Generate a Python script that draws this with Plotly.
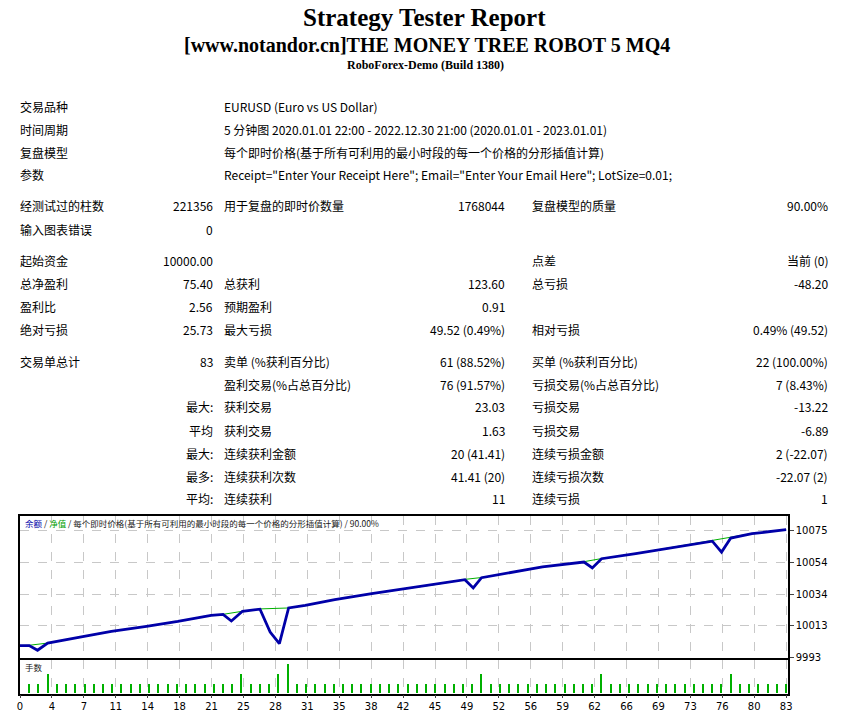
import plotly.graph_objects as go

W, H = 842, 713

# ---- data ----
bal_x = [0, 1, 3, 6.5, 9.9, 13.7, 17.1, 20.7, 22, 24.1, 26, 29.1, 30.9, 34.1, 38.1, 41.3, 44.9, 48.2, 50, 56.6, 61.1, 63, 66.7, 70.3, 75, 77, 79.3, 83]
bal_y = [10000.8, 10001, 10002.4, 10006.3, 10010, 10013.2, 10016.4, 10020.3, 10020.9, 10022.9, 10024.4, 10025, 10026.7, 10030.4, 10034.2, 10037, 10040, 10043.4, 10044.6, 10051.4, 10054.8, 10056.8, 10060, 10063.6, 10068.2, 10070.2, 10072.9, 10075.4]
eq_x = [0, 1, 1.9, 3, 6.5, 9.9, 13.7, 17.1, 20.7, 22, 22.9, 24.1, 26, 27.1, 28.1, 29.1, 30.9, 34.1, 38.1, 41.3, 44.9, 48.2, 49.1, 50, 56.6, 61.1, 62, 63, 66.7, 70.3, 75, 76, 77, 79.3, 83]
eq_y = [10000.8, 10000.8, 9997.8, 10002.4, 10006.3, 10010, 10013.2, 10016.4, 10020.3, 10020.9, 10016.6, 10022.9, 10024.2, 10009.5, 10002, 10025, 10026.7, 10030.4, 10034.2, 10037, 10040, 10043.2, 10037.9, 10044.5, 10051.4, 10054.6, 10050.8, 10056.7, 10060, 10063.6, 10068, 10061, 10070, 10072.8, 10075.4]
lots_x = list(range(1, 84))
lots_big = {3: 2, 24: 2, 28: 2, 29: 3, 50: 2, 63: 2, 77: 2}
lots_y = [lots_big.get(i, 1) for i in lots_x]
x_tick_labels = ["0","4","7","11","14","18","21","25","28","31","35","38","42","45","49","52","56","59","62","66","69","73","76","80","83"]
y_tick_vals = [9993, 10013.5, 10034, 10054.5, 10075]
y_tick_labels = ["9993", "10013", "10034", "10054", "10075"]

info_rows = [
    (106, "交易品种", "EURUSD (Euro vs US Dollar)"),
    (129, "时间周期", "5 分钟图 2020.01.01 22:00 - 2022.12.30 21:00 (2020.01.01 - 2023.01.01)"),
    (152, "复盘模型", "每个即时价格(基于所有可利用的最小时段的每一个价格的分形插值计算)"),
    (175, "参数", 'Receipt="Enter Your Receipt Here"; Email="Enter Your Email Here"; LotSize=0.01;'),
]
# y, label1, value1, label2, value2, label3, value3
stat_rows = [
    (206, "经测试过的柱数", "221356", "用于复盘的即时价数量", "1768044", "复盘模型的质量", "90.00%"),
    (229, "输入图表错误", "0", "", "", "", ""),
    (260, "起始资金", "10000.00", "", "", "点差", "当前 (0)"),
    (283, "总净盈利", "75.40", "总获利", "123.60", "总亏损", "-48.20"),
    (306, "盈利比", "2.56", "预期盈利", "0.91", "", ""),
    (329, "绝对亏损", "25.73", "最大亏损", "49.52 (0.49%)", "相对亏损", "0.49% (49.52)"),
    (361, "交易单总计", "83", "卖单 (%获利百分比)", "61 (88.52%)", "买单 (%获利百分比)", "22 (100.00%)"),
    (384, "", "", "盈利交易(%占总百分比)", "76 (91.57%)", "亏损交易(%占总百分比)", "7 (8.43%)"),
    (407, "", "最大:", "获利交易", "23.03", "亏损交易", "-13.22"),
    (430, "", "平均", "获利交易", "1.63", "亏损交易", "-6.89"),
    (453, "", "最大:", "连续获利金额", "20 (41.41)", "连续亏损金额", "2 (-22.07)"),
    (476, "", "最多:", "连续获利次数", "41.41 (20)", "连续亏损次数", "-22.07 (2)"),
    (499, "", "平均:", "连续获利", "11", "连续亏损", "1"),
]

fig = go.Figure()
fig.add_trace(go.Scatter(x=bal_x, y=bal_y, mode="lines", line=dict(color="#00b000", width=1), xaxis="x", yaxis="y", hoverinfo="skip"))
fig.add_trace(go.Scatter(x=eq_x, y=eq_y, mode="lines", line=dict(color="#0000a8", width=2.8), xaxis="x", yaxis="y", hoverinfo="skip"))
fig.add_trace(go.Bar(x=lots_x, y=lots_y, width=0.12, marker=dict(color="#00b000", line=dict(width=0)), xaxis="x2", yaxis="y2", hoverinfo="skip"))

px = lambda v: v / W
py = lambda v: 1 - v / H
tickpos = [i * 83 / 24 for i in range(25)]
grid = dict(showgrid=True, gridcolor="#c8c8c8", griddash="dash", gridwidth=1)
fig.update_layout(
    width=W, height=H, margin=dict(l=0, r=0, t=0, b=0, pad=0, autoexpand=False), showlegend=False,
    paper_bgcolor="white", plot_bgcolor="white", bargap=0,
    font=dict(family="Noto Sans CJK SC, DejaVu Sans", size=12, color="black"),
    xaxis=dict(domain=[px(20), px(788)], range=[0, 83.2], tickvals=tickpos, showticklabels=False, ticks="", zeroline=False,
               showline=True, mirror=True, linecolor="black", linewidth=1.5, anchor="y", automargin=False, **grid),
    yaxis=dict(domain=[py(657.7), py(516)], range=[9993, 10084.2], tickvals=y_tick_vals, ticktext=y_tick_labels, side="right",
               ticks="outside", ticklen=4, tickfont=dict(size=10, family="DejaVu Sans"), zeroline=False, automargin=False,
               showline=True, mirror=True, linecolor="black", linewidth=1.5, anchor="x", **grid),
    xaxis2=dict(domain=[px(20), px(788)], range=[0, 83.2], tickvals=tickpos, ticktext=x_tick_labels, ticks="outside", ticklen=3,
                tickfont=dict(size=10, family="DejaVu Sans"), zeroline=False, automargin=False,
                showline=True, mirror=True, linecolor="black", linewidth=1.5, anchor="y2", **grid),
    yaxis2=dict(domain=[py(693.7), py(660.3)], range=[0, 3.45], showticklabels=False, showgrid=False, zeroline=False,
                automargin=False, showline=True, mirror=True, linecolor="black", linewidth=1.5, anchor="x2"),
)

ann = []
def T(x, y, s, anchor="left", size=12, family=None, color="black", bold=False):
    if not s:
        return
    f = dict(size=size, color=color)
    if family:
        f["family"] = family
    ann.append(dict(x=px(x), y=py(y), xref="paper", yref="paper", text=("<b>%s</b>" % s) if bold else s,
                    showarrow=False, xanchor=anchor, yanchor="middle", font=f))

serif = "Liberation Serif, Times New Roman, serif"
T(424, 17, "Strategy Tester Report", "center", 25, serif, bold=True)
T(427, 45, "[www.notandor.cn]THE MONEY TREE ROBOT 5 MQ4", "center", 20, serif, bold=True)
T(425, 65, "RoboForex-Demo (Build 1380)", "center", 12, serif, bold=True)
for y, l, v in info_rows:
    T(18, y, l)
    T(222, y, v)
for y, l1, v1, l2, v2, l3, v3 in stat_rows:
    T(18, y, l1)
    T(215, y, v1, "right")
    T(222, y, l2)
    T(507, y, v2, "right")
    T(530, y, l3)
    T(830, y, v3, "right")

ann.append(dict(x=px(23), y=py(523), xref="paper", yref="paper", showarrow=False, xanchor="left", yanchor="middle",
                text='<span style="color:#0000a8">余额</span> / <span style="color:#00a000">净值</span> / 每个即时价格(基于所有可利用的最小时段的每一个价格的分形插值计算) / 90.00%',
                font=dict(size=8.5, color="#202020")))
T(23, 667, "手数", size=8.5, color="#202020")
fig.update_layout(annotations=ann)
fig.write_html("out.html", config={"displayModeBar": False},
               post_script="document.body.style.margin='0';")
